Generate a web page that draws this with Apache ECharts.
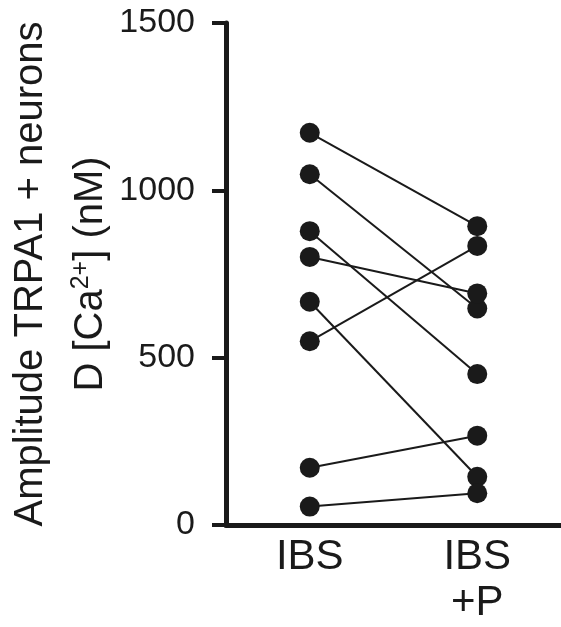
<!DOCTYPE html>
<html>
<head>
<meta charset="utf-8">
<script src="https://cdn.jsdelivr.net/npm/echarts@6/dist/echarts.min.js"></script>
<style>
html,body{margin:0;padding:0;background:#fff;}
#chart{width:561px;height:627px;}
</style>
</head>
<body>
<div id="chart"></div>
<script>
// Data
var categories = ['IBS', 'IBS\n+P'];
var ibsValues = [1172, 1048, 878, 801, 667, 549, 171, 55];
var ibsPValues = [893, 647, 451, 692, 144, 834, 267, 95];
var yTicks = [0, 500, 1000, 1500];

var FONT = '"Liberation Sans", Arial, Helvetica, sans-serif';
var chart = echarts.init(document.getElementById('chart'), null, {renderer: 'canvas'});

var series = [];
for (var i = 0; i < ibsValues.length; i++) {
  series.push({
    type: 'line',
    data: [ibsValues[i], ibsPValues[i]],
    symbol: 'circle',
    symbolSize: 20,
    itemStyle: {color: '#1a1a1a'},
    lineStyle: {color: '#1a1a1a', width: 2},
    animation: false,
    z: 3
  });
}

chart.setOption({
  backgroundColor: '#fff',
  animation: false,
  grid: {left: 226, right: 0, top: 23, bottom: 102, containLabel: false, outerBoundsMode: 'none'},
  xAxis: {
    type: 'category',
    data: categories,
    boundaryGap: true,
    axisLine: {lineStyle: {color: '#1a1a1a', width: 5}},
    axisTick: {show: false},
    axisLabel: {
      color: '#1a1a1a', fontFamily: FONT, fontSize: 42, lineHeight: 46, margin: 9
    },
    splitLine: {show: false}
  },
  yAxis: {
    type: 'value',
    min: yTicks[0],
    max: yTicks[yTicks.length - 1],
    interval: 500,
    axisLine: {show: true, lineStyle: {color: '#1a1a1a', width: 5}},
    axisTick: {show: true, length: 14, lineStyle: {color: '#1a1a1a', width: 4}},
    axisLabel: {color: '#1a1a1a', fontFamily: FONT, fontSize: 34, margin: 31,
      formatter: function (v) { return String(v); }},
    splitLine: {show: false},
    name: 'Amplitude TRPA1 + neurons\nD [Ca{sup|2+}] (nM)',
    nameLocation: 'middle',
    nameRotate: 90,
    nameGap: 105,
    nameMoveOverlap: false,
    nameTextStyle: {
      color: '#1a1a1a', fontFamily: FONT, fontSize: 40, lineHeight: 60,
      rich: {
        sup: {fontFamily: FONT, fontSize: 25, color: '#1a1a1a', lineHeight: 60, padding: [0, 0, 20, 0]}
      }
    }
  },
  series: series
});
</script>
</body>
</html>
